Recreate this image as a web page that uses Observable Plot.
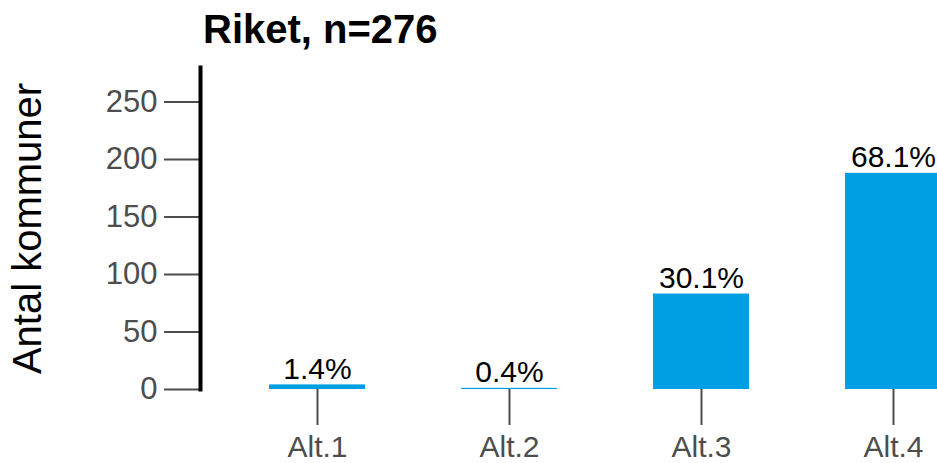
<!DOCTYPE html>
<html>
<head>
<meta charset="utf-8">
<script src="https://cdn.jsdelivr.net/npm/d3@7"></script>
<script src="https://cdn.jsdelivr.net/npm/@observablehq/plot@0.6"></script>
<style>
  html, body { margin: 0; padding: 0; background: white; overflow: hidden; }
  #wrap { position: relative; width: 937px; height: 463px; font-family: "Liberation Sans", Arial, sans-serif; }
  #title { position: absolute; left: 203px; top: 9px; font-size: 40px; font-weight: bold; line-height: 1; color: #000; white-space: nowrap; }
  #chart { position: absolute; left: 0; top: 0; }
</style>
</head>
<body>
<div id="wrap">
  <div id="chart"></div>
  <div id="title">Riket, n=276</div>
</div>
<script>
const categories = ["Alt.1", "Alt.2", "Alt.3", "Alt.4"];
const counts = [4, 1, 83, 188];
const pctLabels = ["1.4%", "0.4%", "30.1%", "68.1%"];
const yTicks = [0, 50, 100, 150, 200, 250];
const yLabel = "Antal kommuner";

const data = categories.map((c, i) => ({cat: c, value: counts[i], pct: pctLabels[i]}));

const chart = Plot.plot({
  width: 937,
  height: 463,
  marginLeft: 200,
  marginRight: 0,
  marginTop: 67,
  marginBottom: 74,
  style: {fontFamily: "Liberation Sans, Arial, sans-serif", background: "white", overflow: "hidden"},
  x: {domain: categories, range: [173, 1037], padding: 0.5},
  y: {domain: [0, 280]},
  marks: [
    Plot.barY(data, {x: "cat", y: "value", fill: "#009FE3"}),
    Plot.text(data, {x: "cat", y: "value", text: "pct", lineAnchor: "bottom", dy: -6, fontSize: 30, fill: "#000"}),
    Plot.axisY({ticks: yTicks, tickSize: 36, tickPadding: 7, fontSize: 31, color: "#4d4d4d", strokeWidth: 2, label: null}),
    Plot.axisX({tickSize: 36, tickPadding: 10, fontSize: 30, color: "#4d4d4d", strokeWidth: 2, label: null}),
    Plot.frame({anchor: "left", stroke: "#000", strokeWidth: 4}),
    Plot.text([yLabel], {frameAnchor: "left", rotate: -90, dx: -172, dy: 0, fontSize: 40, fill: "#000", textAnchor: "middle", lineAnchor: "middle"})
  ]
});
document.getElementById("chart").appendChild(chart);
</script>
</body>
</html>
